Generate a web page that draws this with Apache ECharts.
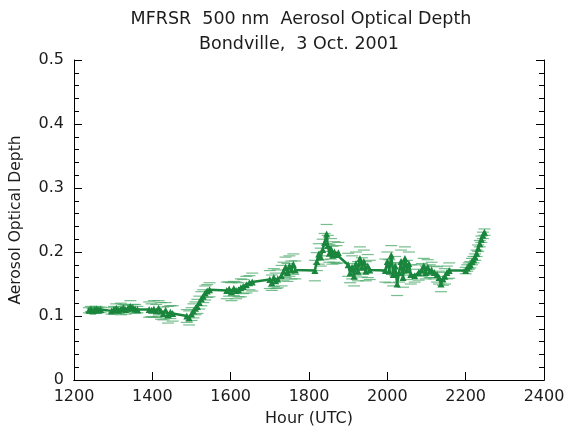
<!DOCTYPE html>
<html>
<head>
<meta charset="utf-8">
<script src="https://cdn.jsdelivr.net/npm/echarts@6/dist/echarts.min.js"></script>
<style>html,body{margin:0;padding:0;background:#fff;}#c{width:568px;height:432px;}</style>
</head>
<body>
<div id="c"></div>
<script>
const titleLines = ["MFRSR  500 nm  Aerosol Optical Depth", "Bondville,  3 Oct. 2001"];
const xTicks = [1200, 1400, 1600, 1800, 2000, 2200, 2400];
const yTicks = [0, 0.1, 0.2, 0.3, 0.4, 0.5];

const hours = [
  1238,1243,1248,1253,1258,1263,1268,
  1296,1302,1308,1314,1320,1326,1332,1338,1344,1350,1356,1362,
  1392,1398,1404,1410,1416,1422,1428,1434,1440,1446,1452,
  1488,1494,1500,1505,1510,1515,1520,1525,1530,1535,1540,1546,
  1590,1596,1602,1608,1614,1620,1626,1632,1640,1648,1655,
  1700,1705,1710,1715,1720,
  1730,1735,1740,1745,1750,1755,1760,1765,
  1815,1820,1825,1830,1835,1840,1845,1848,1852,1856,1860,1865,1870,1875,
  1900,1905,1910,1915,1920,1925,1930,1935,1940,1945,1950,1955,
  1995,2000,2005,2010,2015,2020,2025,2030,2035,2040,2045,2050,2055,2060,
  2070,2080,2088,2093,2098,2103,2108,2113,2120,2127,2132,2137,2142,2147,2152,2158,
  2200,2204,2208,2212,2216,2220,2224,2228,2232,2236,2240,2244,2248
];
const aod = [
  0.109,0.111,0.108,0.110,0.111,0.109,0.110,
  0.108,0.110,0.112,0.109,0.111,0.113,0.110,0.112,0.115,0.113,0.111,0.110,
  0.110,0.109,0.111,0.108,0.112,0.108,0.104,0.109,0.102,0.106,0.104,
  0.100,0.097,0.103,0.108,0.112,0.115,0.121,0.127,0.131,0.136,0.139,0.141,
  0.140,0.142,0.138,0.143,0.140,0.141,0.144,0.146,0.149,0.152,0.153,
  0.157,0.152,0.160,0.155,0.158,
  0.163,0.170,0.176,0.168,0.178,0.172,0.181,0.172,
  0.171,0.185,0.197,0.192,0.204,0.215,0.228,0.210,0.198,0.205,0.195,0.200,0.196,0.199,
  0.180,0.167,0.176,0.162,0.182,0.170,0.190,0.176,0.185,0.170,0.178,0.172,
  0.171,0.185,0.170,0.195,0.165,0.178,0.150,0.168,0.185,0.160,0.190,0.172,0.182,0.165,
  0.163,0.168,0.172,0.178,0.168,0.176,0.170,0.172,0.168,0.165,0.160,0.150,0.158,0.162,0.168,0.171,
  0.171,0.175,0.178,0.180,0.185,0.188,0.192,0.198,0.206,0.213,0.220,0.226,0.231
];
const aodErr = [
  0.004,0.004,0.004,0.004,0.004,0.004,0.004,
  0.005,0.005,0.007,0.005,0.009,0.005,0.007,0.005,0.009,0.005,0.007,0.005,
  0.012,0.010,0.013,0.010,0.012,0.013,0.010,0.012,0.013,0.010,0.012,
  0.010,0.011,0.010,0.011,0.010,0.011,0.010,0.011,0.010,0.011,0.010,0.011,
  0.013,0.011,0.014,0.011,0.013,0.011,0.014,0.011,0.013,0.011,0.014,
  0.014,0.012,0.014,0.012,0.014,
  0.016,0.014,0.016,0.014,0.016,0.014,0.016,0.014,
  0.016,0.014,0.016,0.014,0.016,0.014,0.015,0.016,0.014,0.016,0.014,0.016,0.014,0.016,
  0.018,0.015,0.018,0.015,0.018,0.015,0.018,0.015,0.018,0.015,0.018,0.015,
  0.018,0.015,0.018,0.015,0.018,0.015,0.018,0.015,0.018,0.015,0.018,0.015,0.018,0.015,
  0.010,0.012,0.010,0.012,0.010,0.012,0.010,0.012,0.010,0.012,0.010,0.012,0.010,0.012,0.010,0.012,
  0.005,0.005,0.005,0.005,0.005,0.005,0.005,0.005,0.005,0.005,0.005,0.005,0.005
];

const lineData = hours.map((h, i) => [h, aod[i]]);
const errData = hours.map((h, i) => [h, aod[i], aodErr[i]]);

const GREEN = '#1a853c';
const FONT = 'DejaVu Sans';
const TXT = '#1c1c1c';

function frameAxisY(pos, interval, len) {
  return {type: 'value', position: pos, min: yTicks[0], max: yTicks[yTicks.length - 1], interval: interval,
    axisLine: {show: false}, axisTick: {show: true, inside: true, length: len, lineStyle: {color: '#000'}},
    axisLabel: {show: false}, splitLine: {show: false}};
}

const chart = echarts.init(document.getElementById('c'), null, {renderer: 'canvas'});
chart.setOption({
  animation: false,
  backgroundColor: '#fff',
  title: [
    {text: titleLines[0], left: 296, top: 5, textAlign: 'center',
     textStyle: {fontFamily: FONT, fontSize: 17.5, fontWeight: 'normal', color: TXT}},
    {text: titleLines[1], left: 294, top: 30, textAlign: 'center',
     textStyle: {fontFamily: FONT, fontSize: 17.5, fontWeight: 'normal', color: TXT}}
  ],
  grid: {left: 73, right: 24, top: 60, bottom: 51, containLabel: false},
  xAxis: [
    {type: 'value', min: xTicks[0], max: xTicks[xTicks.length - 1], interval: 200,
     name: 'Hour (UTC)', nameLocation: 'middle', nameGap: 31,
     nameTextStyle: {fontFamily: FONT, fontSize: 16, color: TXT},
     axisLine: {show: true, lineStyle: {color: '#000', width: 1}},
     axisTick: {show: true, inside: true, length: 8, lineStyle: {color: '#000'}},
     axisLabel: {fontFamily: FONT, fontSize: 16, color: TXT, margin: 9, formatter: v => String(v)},
     splitLine: {show: false}},
    {type: 'value', position: 'top', min: xTicks[0], max: xTicks[xTicks.length - 1], interval: 200,
     axisLine: {show: true, lineStyle: {color: '#000', width: 1}},
     axisTick: {show: false}, axisLabel: {show: false}, splitLine: {show: false}}
  ],
  yAxis: [
    {type: 'value', min: yTicks[0], max: yTicks[yTicks.length - 1], interval: 0.1,
     name: 'Aerosol Optical Depth', nameLocation: 'middle', nameGap: 50,
     nameTextStyle: {fontFamily: FONT, fontSize: 15.5, color: TXT},
     axisLine: {show: true, lineStyle: {color: '#000', width: 1}},
     axisTick: {show: true, inside: true, length: 8, lineStyle: {color: '#000'}},
     axisLabel: {fontFamily: FONT, fontSize: 16, color: TXT, margin: 10,
       formatter: v => (v === 0 ? '0' : v.toFixed(1))},
     splitLine: {show: false}},
    {type: 'value', position: 'right', min: yTicks[0], max: yTicks[yTicks.length - 1], interval: 0.1,
     axisLine: {show: true, lineStyle: {color: '#000', width: 1}},
     axisTick: {show: true, inside: true, length: 8, lineStyle: {color: '#000'}},
     axisLabel: {show: false}, splitLine: {show: false}},
    frameAxisY('left', 0.02, 5),
    frameAxisY('right', 0.02, 5)
  ],
  series: [
    {
      type: 'custom',
      xAxisIndex: 0, yAxisIndex: 0,
      data: errData,
      z: 1,
      renderItem: function (params, api) {
        const x = api.value(0), y = api.value(1), e = api.value(2);
        const lo = api.coord([x, y - e]);
        const hi = api.coord([x, y + e]);
        const w = 6;
        const st = {stroke: '#4aa868', lineWidth: 1.2, opacity: 0.75};
        return {type: 'group', children: [
          {type: 'line', shape: {x1: lo[0] - w, y1: lo[1], x2: lo[0] + w, y2: lo[1]}, style: st},
          {type: 'line', shape: {x1: hi[0] - w, y1: hi[1], x2: hi[0] + w, y2: hi[1]}, style: st}
        ]};
      }
    },
    {
      type: 'line',
      xAxisIndex: 0, yAxisIndex: 0,
      data: lineData,
      z: 3,
      symbol: 'triangle',
      symbolSize: 7,
      showAllSymbol: true,
      itemStyle: {color: GREEN},
      lineStyle: {color: GREEN, width: 2.5}
    }
  ]
});
</script>
</body>
</html>
